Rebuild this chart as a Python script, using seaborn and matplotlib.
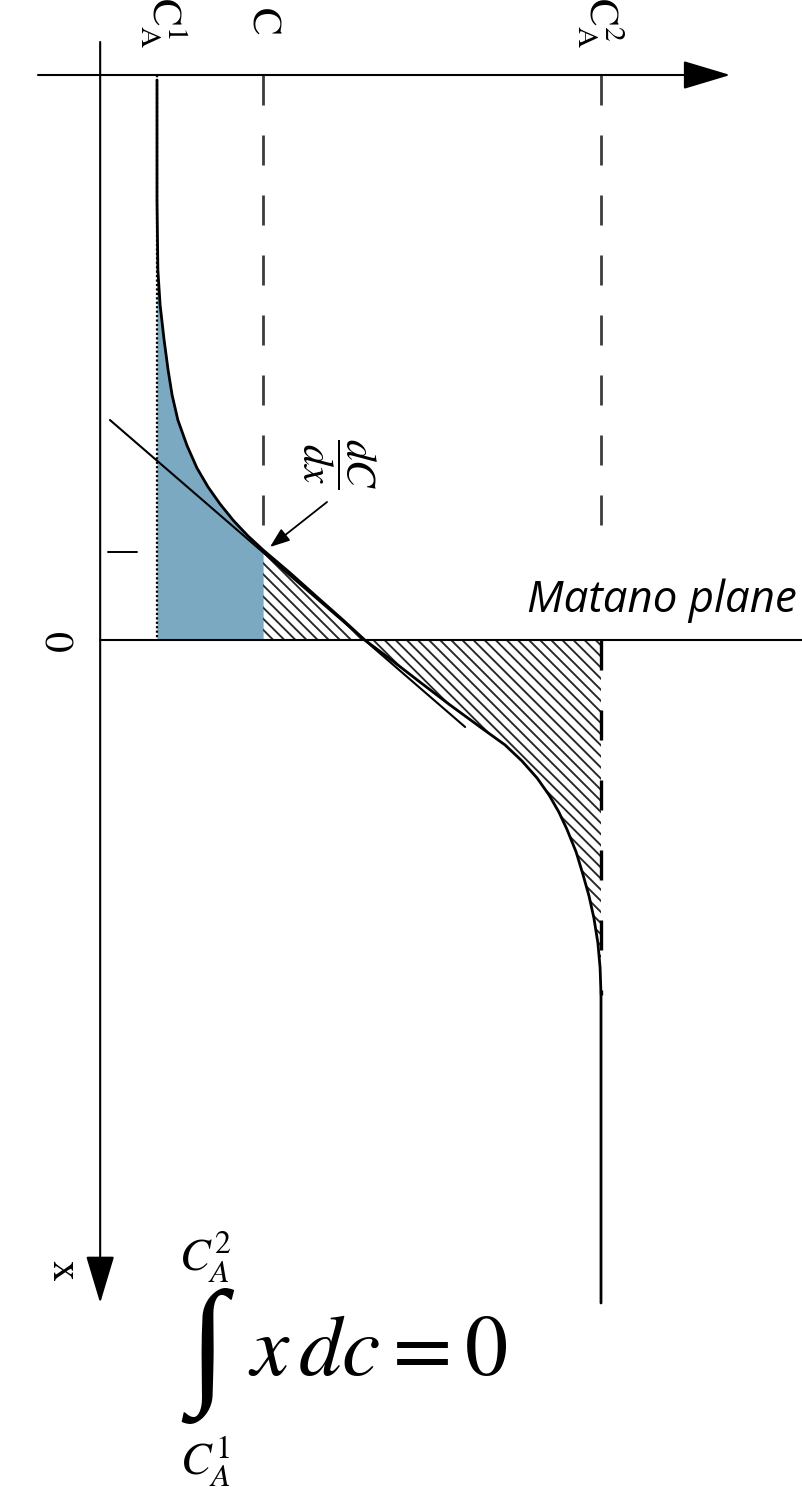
import numpy as np
import matplotlib
matplotlib.use("Agg")
import matplotlib.pyplot as plt
import seaborn as sns

# ---------------- data (concentration normalised: C_A^1 = 0, C_A^2 = 1;
# position x: 0 = Matano plane, positive downward) ----------------
conc = [0.000, 0.000, 0.002, 0.007, 0.016, 0.025, 0.034, 0.047, 0.068, 0.090,
        0.115, 0.142, 0.173, 0.205, 0.239, 0.300, 0.363, 0.419, 0.468, 0.525,
        0.592, 0.660, 0.734, 0.784, 0.822, 0.856, 0.883, 0.905, 0.923, 0.944,
        0.959, 0.973, 0.984, 0.993, 0.998, 1.000, 1.000]
pos = [-5.60, -4.40, -3.70, -3.35, -3.00, -2.70, -2.45, -2.20, -1.94, -1.72,
       -1.53, -1.36, -1.19, -1.04, -0.90, -0.67, -0.42, -0.20, 0.00, 0.19,
       0.42, 0.65, 0.89, 1.05, 1.21, 1.38, 1.55, 1.72, 1.89, 2.12,
       2.34, 2.56, 2.78, 3.03, 3.28, 3.55, 6.63]
level_values = [0.0, 0.239, 1.0]          # C_A^1, C, C_A^2
level_labels = [r"$\mathrm{C_A^1}$", r"$\mathrm{C}$", r"$\mathrm{C_A^2}$"]
x_tangent = -0.90                         # position where dC/dx is taken
tangent_c = [-0.106, 0.694]
tangent_x = [-2.20, 0.87]
hatch_end_x = 3.55

# ---------------- style ----------------
sns.set_theme(style="white")
plt.rcParams["mathtext.fontset"] = "stix"
plt.rcParams["text.color"] = "black"
plt.rcParams["hatch.color"] = "#262626"
plt.rcParams["hatch.linewidth"] = 1.35

BLUE = "#7ca9c2"
DASH = "#3c3c3c"

fig = plt.figure(figsize=(8.02, 14.87), dpi=100)
ax = fig.add_axes([0, 0, 1, 1])
ax.set_xlim(-0.3536, 1.4527)
ax.set_ylim(8.47, -6.40)
ax.axis("off")

c = np.array(conc)
p = np.array(pos)
cA1, cM, cA2 = level_values
axis_x = -5.65      # position of the concentration axis
axis_c = -0.128     # concentration of the position axis

# blue area (left of Matano plane)
up = p <= 0
ax.fill_betweenx(p[up], cA1, np.minimum(c[up], cM), color=BLUE, lw=0, zorder=1)
# hatched areas
hu = (p >= x_tangent) & (p <= 0)
ax.fill_betweenx(p[hu], cM, c[hu], facecolor="none", edgecolor="#262626",
                 hatch="\\\\\\", lw=0, zorder=1)
hl = (p >= 0) & (p <= hatch_end_x)
ax.fill_betweenx(p[hl], c[hl], cA2, facecolor="none", edgecolor="#262626",
                 hatch="\\\\\\", lw=0, zorder=1)

# reference lines
ax.plot([cA1, cA1], [axis_x, 0], color="black", lw=1.6, ls=(0, (1, 1)), zorder=2)
ax.plot([cM, cM], [axis_x, x_tangent], color=DASH, lw=2.0, ls=(0, (10.8, 10.8)), zorder=2)
ax.plot([cA2, cA2], [axis_x, -0.85], color=DASH, lw=2.0, ls=(0, (10.8, 10.8)), zorder=2)
ax.plot([cA2, cA2], [0, hatch_end_x], color="black", lw=2.4, ls=(0, (9, 12)), zorder=2)

# Matano plane
ax.plot([axis_c, 1.4527], [0, 0], color="black", lw=1.5, zorder=3)

# concentration profile
sns.lineplot(x=conc, y=pos, sort=False, estimator=None, color="black",
             lw=2.0, ax=ax, zorder=4)
# tangent line
sns.lineplot(x=tangent_c, y=tangent_x, sort=False, estimator=None,
             color="black", lw=1.5, ax=ax, zorder=4)
# small tick at the tangent position on the left
ax.plot([-0.110, -0.045], [x_tangent + 0.02, x_tangent + 0.02], color="black", lw=1.4)

# axes with arrows
ax.annotate("", xy=(1.291, axis_x), xytext=(-0.268, axis_x),
            arrowprops=dict(arrowstyle="-|>,head_length=3.0,head_width=0.9",
                            lw=1.5, color="black", shrinkA=0, shrinkB=0,
                            mutation_scale=10), zorder=5)
ax.annotate("", xy=(axis_c, 6.63), xytext=(axis_c, -5.98),
            arrowprops=dict(arrowstyle="-|>,head_length=3.0,head_width=0.9",
                            lw=1.5, color="black", shrinkA=0, shrinkB=0,
                            mutation_scale=10), zorder=5)

# level labels (rotated)
label_pos = [(0.0135, -6.17), (0.245, -6.20), (0.998, -6.17)]
for (lc, lx), lab in zip(label_pos, level_labels):
    ax.text(lc, lx, lab, rotation=-90, fontsize=30, ha="center", va="center")

ax.text(-0.234, 0.02, "0", rotation=-90, fontsize=30, family="STIXGeneral",
        ha="center", va="center")
ax.text(-0.214, 6.30, "x", rotation=-90, fontsize=30, family="STIXGeneral",
        ha="center", va="center")

# dC/dx with arrow
ax.text(0.408, -1.76, r"$\dfrac{dC}{dx}$", rotation=-90, fontsize=30,
        ha="center", va="center")
ax.annotate("", xy=(0.2545, -0.93), xytext=(0.383, -1.38),
            arrowprops=dict(arrowstyle="-|>,head_length=1.2,head_width=0.45",
                            lw=1.3, color="black", shrinkA=0, shrinkB=0,
                            mutation_scale=10), zorder=5)

# Matano plane label
ax.text(0.833, -0.28, "Matano plane", family="Open Sans", style="italic",
        fontsize=31.5, ha="left", va="baseline")

# integral
ax.text(0.113, 7.16, "\u222b", fontsize=100, family="Liberation Serif",
        ha="center", va="center")
ax.text(0.108, 6.18, r"$C_A^2$", fontsize=33, ha="center", va="center")
ax.text(0.108, 8.22, r"$C_A^1$", fontsize=33, ha="center", va="center")
ax.text(0.205, 7.11, r"$x\,dc = 0$", fontsize=62, ha="left", va="center")

fig.savefig("out.png", dpi=100)
